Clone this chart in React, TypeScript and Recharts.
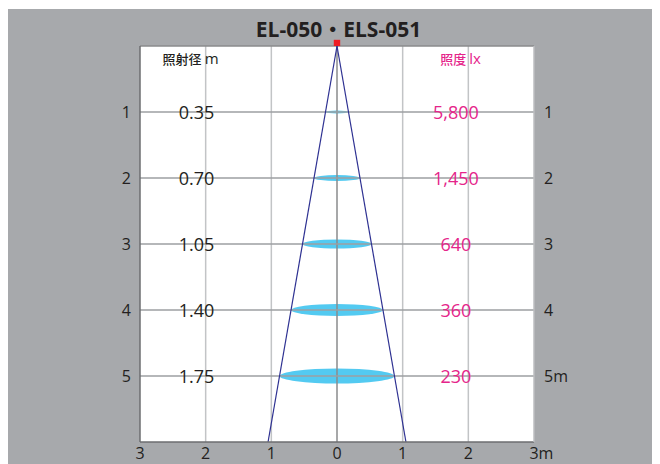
import React from "react";
import {
  ComposedChart,
  XAxis,
  YAxis,
  ReferenceLine,
  ReferenceArea,
  ReferenceDot,
} from "recharts";

const title = "EL-050・ELS-051";
const depths = [1, 2, 3, 4, 5];
const diameters = [0.35, 0.7, 1.05, 1.4, 1.75];
const diameterLabels = ["0.35", "0.70", "1.05", "1.40", "1.75"];
const illuminance = [5800, 1450, 640, 360, 230];
const xTicks = [-3, -2, -1, 0, 1, 2, 3];
const xTickLabels = ["3", "2", "1", "0", "1", "2", "3m"];
const yTicks = [1, 2, 3, 4, 5];
const leftTickLabels = ["1", "2", "3", "4", "5"];
const rightTickLabels = ["1", "2", "3", "4", "5m"];
const maxDepth = 6;
const halfSpan = 3;

const FONT = "'Open Sans', 'Noto Sans', 'Noto Sans CJK JP', sans-serif";
const PINK = "#e5258a";
const TEXT = "#231f20";
const BLUE_LINE = "#2e3192";
const ELLIPSE = "#44c6f0";

const beamEdge = (diameters[0] / 2) * (maxDepth / depths[0]);

const rows = depths.map((d, i) => ({
  depth: d,
  diameter: diameters[i],
  diamText: diameterLabels[i],
  lux: illuminance[i].toLocaleString("en-US"),
}));

const XTick = (props: any) => {
  const { x, y, payload, index } = props;
  const label = xTickLabels[index] ?? String(payload.value);
  const digit = label.replace("m", "");
  const hasUnit = label.endsWith("m");
  return (
    <g>
      <text x={x} y={y + 8.5} textAnchor="middle" fontSize={16} fill={TEXT} fontFamily={FONT}>
        {digit}
      </text>
      {hasUnit && (
        <text x={x + 4.5} y={y + 8.5} textAnchor="start" fontSize={16} fill={TEXT} fontFamily={FONT}>
          m
        </text>
      )}
    </g>
  );
};

const LeftTick = (props: any) => {
  const { x, y, index } = props;
  return (
    <text x={x - 1} y={y + 6} textAnchor="end" fontSize={16} fill={TEXT} fontFamily={FONT}>
      {leftTickLabels[index]}
    </text>
  );
};

const RightTick = (props: any) => {
  const { x, y, index } = props;
  return (
    <text x={x + 2} y={y + 6} textAnchor="start" fontSize={16} fill={TEXT} fontFamily={FONT}>
      {rightTickLabels[index]}
    </text>
  );
};

export default function App() {
  return (
    <div style={{ marginLeft: -2, marginTop: 1, width: 656, height: 456, background: "#a7a9ac" }}>
      <ComposedChart
        width={656}
        height={456}
        margin={{ top: 37, right: 88, bottom: 0, left: 0 }}
        style={{ background: "#a7a9ac" }}
      >
        <XAxis
          type="number"
          dataKey="x"
          domain={[-halfSpan, halfSpan]}
          ticks={xTicks}
          interval={0}
          allowDataOverflow
          height={23}
          tickLine={false}
          axisLine={{ stroke: "#6d6e71", strokeWidth: 1.5 }}
          tick={<XTick />}
        />
        <YAxis
          type="number"
          yAxisId={0}
          domain={[0, maxDepth]}
          reversed
          ticks={yTicks}
          interval={0}
          allowDataOverflow
          width={134}
          tickLine={false}
          axisLine={{ stroke: "#6d6e71", strokeWidth: 1.5 }}
          tick={<LeftTick />}
        />
        <YAxis
          type="number"
          yAxisId="r"
          orientation="right"
          domain={[0, maxDepth]}
          reversed
          ticks={yTicks}
          interval={0}
          allowDataOverflow
          width={40}
          tickLine={false}
          axisLine={{ stroke: "#bcbec0", strokeWidth: 1.5 }}
          tick={<RightTick />}
        />

        <ReferenceArea
          x1={-halfSpan}
          x2={halfSpan}
          y1={0}
          y2={maxDepth}
          fill="#ffffff"
          fillOpacity={1}
          stroke="none"
        />

        {rows.map((r) => {
          const h = r.diameter * 0.065;
          return (
            <ReferenceArea
              key={"e" + r.depth}
              x1={-r.diameter / 2}
              x2={r.diameter / 2}
              y1={r.depth - h}
              y2={r.depth + h}
              ifOverflow="visible"
              shape={(p: any) => (
                <ellipse
                  cx={p.x + p.width / 2}
                  cy={p.y + p.height / 2}
                  rx={Math.abs(p.width) / 2}
                  ry={Math.abs(p.height) / 2}
                  fill={ELLIPSE}
                  fillOpacity={0.92}
                />
              )}
            />
          );
        })}

        {[-2, -1, 1, 2].map((v) => (
          <ReferenceLine key={"v" + v} x={v} stroke="#c2c4c6" strokeWidth={1.5} />
        ))}
        <ReferenceLine x={0} stroke="#8a8b8d" strokeWidth={1.5} />
        {yTicks.map((v) => (
          <ReferenceLine key={"h" + v} y={v} stroke="#9d9fa2" strokeWidth={1.3} />
        ))}
        <ReferenceLine y={0} stroke="#8a8b8d" strokeWidth={1.5} />

        <ReferenceLine
          segment={[
            { x: 0, y: 0 },
            { x: -beamEdge, y: maxDepth },
          ]}
          stroke={BLUE_LINE}
          strokeWidth={1.2}
        />
        <ReferenceLine
          segment={[
            { x: 0, y: 0 },
            { x: beamEdge, y: maxDepth },
          ]}
          stroke={BLUE_LINE}
          strokeWidth={1.2}
        />

        {rows.map((r) => (
          <ReferenceDot
            key={"d" + r.depth}
            x={-2.14}
            y={r.depth}
            r={0}
            ifOverflow="visible"
            shape={(p: any) => (
              <text
                x={p.cx}
                y={p.cy + 6.5}
                textAnchor="middle"
                fontSize={18}
                fill={TEXT}
                fontFamily={FONT}
              >
                {r.diamText}
              </text>
            )}
          />
        ))}
        {rows.map((r) => (
          <ReferenceDot
            key={"l" + r.depth}
            x={1.81}
            y={r.depth}
            r={0}
            ifOverflow="visible"
            shape={(p: any) => (
              <text
                x={p.cx}
                y={p.cy + 6.5}
                textAnchor="middle"
                fontSize={18}
                fill={PINK}
                fontFamily={FONT}
              >
                {r.lux}
              </text>
            )}
          />
        ))}

        <ReferenceDot
          x={-2.23}
          y={0.19}
          r={0}
          ifOverflow="visible"
          shape={(p: any) => (
            <text x={p.cx} y={p.cy + 5} textAnchor="middle" fill={TEXT} fontFamily={FONT}>
              <tspan fontSize={13} fontWeight={500}>照射径</tspan>
              <tspan fontSize={15} dx={3}>m</tspan>
            </text>
          )}
        />
        <ReferenceDot
          x={1.88}
          y={0.19}
          r={0}
          ifOverflow="visible"
          shape={(p: any) => (
            <text x={p.cx} y={p.cy + 5} textAnchor="middle" fill={PINK} fontFamily={FONT}>
              <tspan fontSize={13} fontWeight={500}>照度</tspan>
              <tspan fontSize={15} dx={3}>lx</tspan>
            </text>
          )}
        />

        <ReferenceDot
          x={0}
          y={0}
          r={0}
          ifOverflow="visible"
          shape={(p: any) => (
            <g>
              <rect x={p.cx - 3.2} y={p.cy - 6.2} width={6.4} height={6.2} fill="#ed1c24" />
              <text
                x={p.cx + 1.5}
                y={p.cy - 9}
                textAnchor="middle"
                fontSize={21}
                fontWeight={700}
                fill={TEXT}
                fontFamily={FONT}
              >
                {title}
              </text>
            </g>
          )}
        />
      </ComposedChart>
    </div>
  );
}
